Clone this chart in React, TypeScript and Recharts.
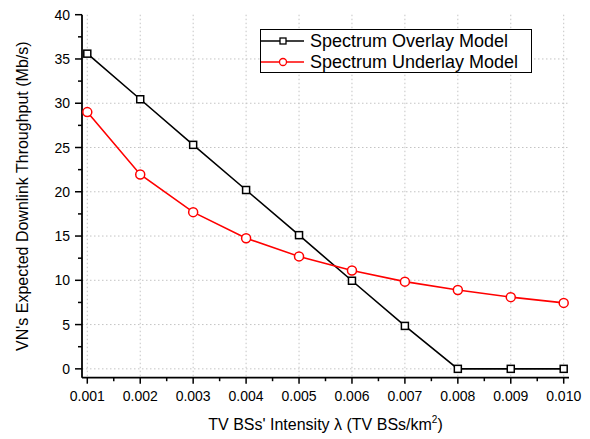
import React from 'react';
import { LineChart, Line, XAxis, YAxis, CartesianGrid, Legend } from 'recharts';

const lambdas = [0.001, 0.002, 0.003, 0.004, 0.005, 0.006, 0.007, 0.008, 0.009, 0.010];
const overlay = [35.6, 30.45, 25.3, 20.2, 15.1, 9.95, 4.85, 0, 0, 0];
const underlay = [29.0, 21.95, 17.7, 14.75, 12.7, 11.1, 9.85, 8.9, 8.1, 7.45];

const xMajor = [0.001, 0.002, 0.003, 0.004, 0.005, 0.006, 0.007, 0.008, 0.009, 0.010];
const xMinor = [0.0015, 0.0025, 0.0035, 0.0045, 0.0055, 0.0065, 0.0075, 0.0085, 0.0095];
const yMajor = [0, 5, 10, 15, 20, 25, 30, 35, 40];
const yMinor = [2.5, 7.5, 12.5, 17.5, 22.5, 27.5, 32.5, 37.5];
const yGrid = [0, 5, 10, 15, 20, 25, 30, 35];

const seriesNames = ['Spectrum Overlay Model', 'Spectrum Underlay Model'];
const seriesColors = ['#000000', '#ff0000'];

const data = lambdas.map((l, i) => ({ x: l, overlay: overlay[i], underlay: underlay[i] }));
const xTicksAll = [...xMajor, ...xMinor].sort((a, b) => a - b);
const yTicksAll = [...yMajor, ...yMinor].sort((a, b) => a - b);

const FONT = '"Liberation Sans", Arial, sans-serif';

const isMajor = (v: number, list: number[]) => list.some((m) => Math.abs(m - v) < 1e-9);

const XTick = (props: any) => {
  const { x, y, payload } = props;
  const v = payload.value as number;
  const major = isMajor(v, xMajor);
  return (
    <g>
      <line x1={x} y1={y} x2={x} y2={y + (major ? 6 : 3.5)} stroke="#000" strokeWidth={1.5} />
      {major && (
        <text x={x} y={y + 23.3} textAnchor="middle" fontFamily={FONT} fontSize={14} fill="#000">
          {v.toFixed(3)}
        </text>
      )}
    </g>
  );
};

const YTick = (props: any) => {
  const { x, y, payload } = props;
  const v = payload.value as number;
  const major = isMajor(v, yMajor);
  return (
    <g>
      <line x1={x} y1={y} x2={x - (major ? 7 : 4)} y2={y} stroke="#000" strokeWidth={1.5} />
      {major && (
        <text x={x - 12} y={y + 5} textAnchor="end" fontFamily={FONT} fontSize={14} fill="#000">
          {v}
        </text>
      )}
    </g>
  );
};

const SquareDot = (props: any) => {
  const { cx, cy } = props;
  if (cx == null || cy == null) return <g />;
  return <rect x={cx - 3.5} y={cy - 3.5} width={7} height={7} fill="#fff" stroke="#000" strokeWidth={1.5} />;
};

const CircleDot = (props: any) => {
  const { cx, cy } = props;
  if (cx == null || cy == null) return <g />;
  return <circle cx={cx} cy={cy} r={4.5} fill="#fff" stroke="#ff0000" strokeWidth={1.5} />;
};

const LegendBox = () => (
  <div
    style={{
      width: 270,
      height: 42,
      border: '1.5px solid #000',
      background: '#fff',
      fontFamily: FONT,
      fontSize: 18,
      color: '#000',
      boxSizing: 'content-box',
    }}
  >
    {seriesNames.map((name, i) => (
      <div key={name} style={{ display: 'flex', alignItems: 'center', height: 22, marginTop: i === 0 ? 0 : -1 }}>
        <svg width={44} height={14} style={{ display: 'block' }}>
          <line x1={0} y1={7} x2={43} y2={7} stroke={seriesColors[i]} strokeWidth={1.5} />
          {i === 0 ? (
            <rect x={19} y={4} width={6} height={6} fill="#fff" stroke="#000" strokeWidth={1.3} />
          ) : (
            <circle cx={22} cy={7} r={3.5} fill="#fff" stroke="#ff0000" strokeWidth={1.3} />
          )}
        </svg>
        <span style={{ marginLeft: 5, lineHeight: '22px', whiteSpace: 'nowrap' }}>{name}</span>
      </div>
    ))}
  </div>
);

const XLabel = (props: any) => {
  const vb = props.viewBox || {};
  const cx = vb.x + vb.width / 2;
  const y = vb.y + 52;
  return (
    <text x={cx} y={y} textAnchor="middle" fontFamily={FONT} fontSize={16} fill="#000">
      TV BSs' Intensity λ (TV BSs/km
      <tspan fontSize={10} dy={-7}>2</tspan>
      <tspan dy={7}>)</tspan>
    </text>
  );
};

const YLabel = (props: any) => {
  const vb = props.viewBox || {};
  const cy = vb.y + vb.height / 2;
  const x = 28;
  return (
    <text
      x={x}
      y={cy}
      transform={`rotate(-90, ${x}, ${cy})`}
      textAnchor="middle"
      fontFamily={FONT}
      fontSize={16}
      fill="#000"
    >
      VN's Expected Downlink Throughput (Mb/s)
    </text>
  );
};

export default function App() {
  return (
    <div style={{ position: 'fixed', left: 0, top: 0, width: 590, height: 439, background: '#fff' }}>
      <LineChart width={590} height={439} data={data} margin={{ top: 14.7, right: 21, bottom: 0, left: 0 }}>
        <CartesianGrid
          stroke="#c4c4c4"
          strokeDasharray="1.5 2.5"
          strokeWidth={1}
          verticalValues={xMajor}
          horizontalValues={yGrid}
        />
        <XAxis
          dataKey="x"
          type="number"
          domain={[0.0009, 0.0101]}
          ticks={xTicksAll}
          interval={0}
          tickSize={0}
          tickMargin={0}
          tickLine={false}
          height={61.3}
          allowDataOverflow
          axisLine={{ stroke: '#000', strokeWidth: 1.8 }}
          tick={<XTick />}
          label={<XLabel />}
        />
        <YAxis
          type="number"
          domain={[-1, 40]}
          ticks={yTicksAll}
          interval={0}
          width={82}
          tickSize={0}
          tickMargin={0}
          tickLine={false}
          allowDataOverflow
          axisLine={{ stroke: '#000', strokeWidth: 1.8 }}
          tick={<YTick />}
          label={<YLabel />}
        />
        <Legend
          content={<LegendBox />}
          layout="horizontal"
          verticalAlign="middle"
          align="center"
          wrapperStyle={{ position: 'absolute', left: 260, top: 29, width: 273, height: 45 }}
        />
        <Line
          type="linear"
          dataKey="overlay"
          name={seriesNames[0]}
          stroke="#000"
          strokeWidth={1.6}
          dot={<SquareDot />}
          isAnimationActive={false}
        />
        <Line
          type="linear"
          dataKey="underlay"
          name={seriesNames[1]}
          stroke="#ff0000"
          strokeWidth={1.6}
          dot={<CircleDot />}
          isAnimationActive={false}
        />
      </LineChart>
    </div>
  );
}
